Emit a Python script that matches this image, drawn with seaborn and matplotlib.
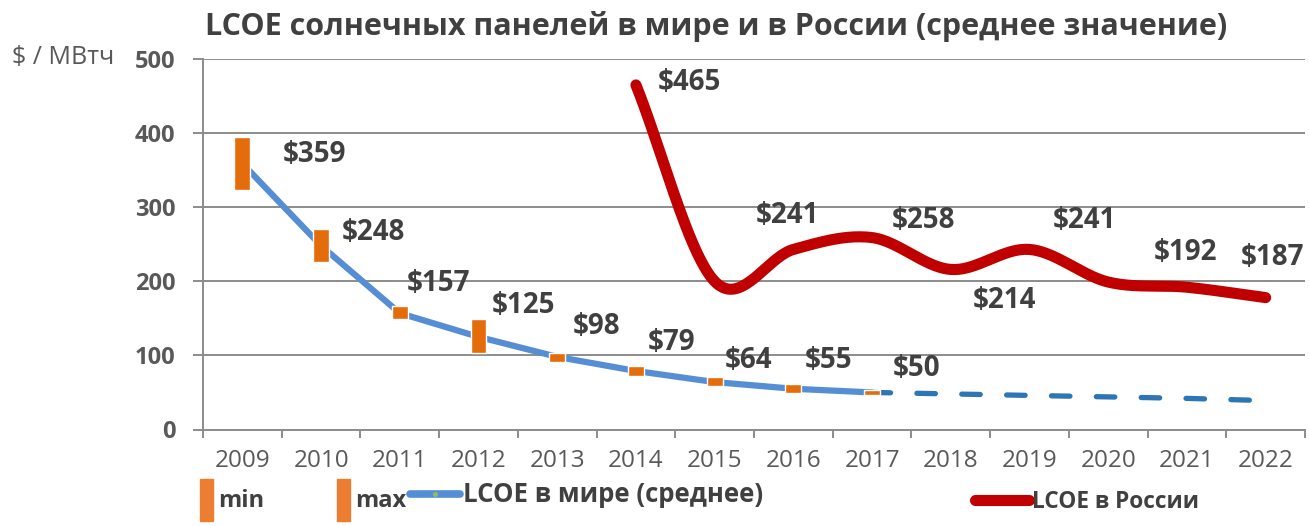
import numpy as np
import pandas as pd
import seaborn as sns
import matplotlib.pyplot as plt
from matplotlib.patches import Patch
from matplotlib.lines import Line2D

# data
years = list(range(2009, 2023))
world_years = [2009, 2010, 2011, 2012, 2013, 2014, 2015, 2016, 2017]
world_lcoe = [359, 248, 157, 125, 98, 79, 64, 55, 50]
world_min = [323, 226, 149, 103, 91, 72, 59, 49, 47]
world_max = [395, 270, 166, 149, 103, 86, 71, 61, 53]
forecast_years = [2017, 2018, 2019, 2020, 2021, 2022]
forecast_lcoe = [50, 48, 46, 44, 42, 39]
russia_years = [2014, 2015, 2016, 2017, 2018, 2019, 2020, 2021, 2022]
russia_lcoe = [465, 200, 243, 259, 216, 243, 199, 192, 178]
russia_labels = ["$465", "", "$241", "$258", "$214", "$241", "", "$192", "$187"]
world_labels = ["$" + str(v) for v in world_lcoe]

# label offsets in pixels (dx, dy), layout only
world_offsets = [(40, 9), (21, 13), (7, 30), (13, 31), (16, 30), (12, 28), (10, 22), (11, 28), (21, 24)]
russia_offsets = [(22, 2), None, (-38, 34), (20, 17), (22, -31), (23, 29), None, (-33, 35), (-25, 40)]

BLUE = "#558ED5"
DARK_BLUE = "#2E75B6"
RED = "#C00000"
ORANGE = "#E46C0A"
GRID = "#8C8C8C"
TXT = "#404040"
TICK = "#595959"


def smooth(x, y, n=40):
    # catmull-rom style smoothing, similar to excel smoothed lines
    x = np.asarray(x, float)
    y = np.asarray(y, float)
    m = np.zeros_like(y)
    m[1:-1] = (y[2:] - y[:-2]) / 2
    m[0] = y[1] - y[0]
    m[-1] = y[-1] - y[-2]
    xs, ys = [], []
    for i in range(len(x) - 1):
        t = np.linspace(0, 1, n, endpoint=(i == len(x) - 2))
        h00 = 2 * t**3 - 3 * t**2 + 1
        h10 = t**3 - 2 * t**2 + t
        h01 = -2 * t**3 + 3 * t**2
        h11 = t**3 - t**2
        xs.append(x[i] + t * (x[i + 1] - x[i]))
        ys.append(h00 * y[i] + h10 * m[i] + h01 * y[i + 1] + h11 * m[i + 1])
    return np.concatenate(xs), np.concatenate(ys)


sns.set_theme(style="white")
plt.rcParams["font.family"] = ["Open Sans", "DejaVu Sans"]

fig = plt.figure(figsize=(13.09, 5.26), dpi=100)
ax = fig.add_axes([203 / 1309, 1 - 429.5 / 526, (1305 - 203) / 1309, (429.5 - 59) / 526])

world_df = pd.DataFrame({"year": world_years, "lcoe": world_lcoe})
fc_df = pd.DataFrame({"year": forecast_years, "lcoe": forecast_lcoe})
rx, ry = smooth(russia_years, russia_lcoe)
rus_df = pd.DataFrame({"year": rx, "lcoe": ry})

sns.lineplot(data=fc_df, x="year", y="lcoe", ax=ax, color=DARK_BLUE, lw=3.8,
             linestyle=(0, (3.5, 5.0)), dash_capstyle="round", estimator=None, zorder=2)
sns.lineplot(data=world_df, x="year", y="lcoe", ax=ax, color=BLUE, lw=4.5,
             solid_capstyle="round", estimator=None, zorder=3)
ax.bar(world_years, np.array(world_max) - np.array(world_min), bottom=world_min,
       width=0.2, color=ORANGE, zorder=4)
sns.lineplot(data=rus_df, x="year", y="lcoe", ax=ax, color=RED, lw=8,
             solid_capstyle="round", estimator=None, sort=False, zorder=5)

# data labels
for x, v, lab, off in zip(world_years, world_lcoe, world_labels, world_offsets):
    ax.annotate(lab, (x, v), xytext=off, textcoords="offset pixels", ha="left", va="center",
                fontsize=20, fontweight="bold", color=TXT, zorder=6)
for x, v, lab, off in zip(russia_years, russia_lcoe, russia_labels, russia_offsets):
    if lab:
        ax.annotate(lab, (x, v), xytext=off, textcoords="offset pixels", ha="left", va="center",
                    fontsize=20, fontweight="bold", color=TXT, zorder=6)

ax.set_xlim(2008.5, 2022.5)
ax.set_ylim(0, 500)
ax.set_yticks([0, 100, 200, 300, 400, 500])
ax.set_xticks(years)
ax.set_xticks(np.arange(2008.5, 2023, 1), minor=True)
ax.set_xlabel("")
ax.set_ylabel("")
ax.yaxis.grid(True, color=GRID, lw=1.4)
ax.xaxis.grid(False)
ax.set_axisbelow(True)
for s in ["top", "right"]:
    ax.spines[s].set_visible(False)
for s in ["left", "bottom"]:
    ax.spines[s].set_color(GRID)
    ax.spines[s].set_linewidth(1.4)
ax.tick_params(axis="x", which="major", length=0, pad=14, labelsize=17.5, labelcolor=TICK)
ax.tick_params(axis="x", which="minor", bottom=True, length=6, width=1.4, color=GRID, direction="out")
ax.tick_params(axis="y", left=True, length=7, width=1.4, color=GRID, direction="out", pad=13,
               labelsize=17, labelcolor=TICK)
for t in ax.get_yticklabels():
    t.set_fontweight("bold")

fig.text(205 / 1309, 1 - 26 / 526, "LCOE солнечных панелей в мире и в России (среднее значение)",
         fontsize=22, fontweight="bold", color=TXT, va="center", ha="left")
fig.text(12 / 1309, 1 - 58 / 526, "$ / МВтч", fontsize=18, color=TICK, va="center", ha="left")

# legends
leg_kw = dict(frameon=False, borderpad=0, borderaxespad=0, labelcolor=TXT)
l1 = fig.legend([Patch(color="#ED7D31"), Patch(color="#ED7D31")], ["min", "max"], ncol=2,
                loc="center left", bbox_to_anchor=(200 / 1309, 1 - 500 / 526),
                prop={"size": 17, "weight": "bold"},
                handlelength=0.55, handleheight=2.3, handletextpad=0.2, columnspacing=3.1, **leg_kw)
l2 = fig.legend([Line2D([], [], color=BLUE, lw=5.5, marker="o", ms=2.5, mfc="#9BBB59", mec="#9BBB59",
                        solid_capstyle="round")],
                ["LCOE в мире (среднее)"], loc="center left", bbox_to_anchor=(410 / 1309, 1 - 495 / 526),
                prop={"size": 18.5, "weight": "bold"},
                handlelength=1.95, handletextpad=0.11, **leg_kw)
l3 = fig.legend([Line2D([], [], color=RED, lw=8, solid_capstyle="round")], ["LCOE в России"],
                loc="center left", bbox_to_anchor=(975 / 1309, 1 - 502 / 526),
                prop={"size": 16.3, "weight": "bold"},
                handlelength=2.4, handletextpad=0.12, **leg_kw)

fig.savefig("out.png", dpi=100)
